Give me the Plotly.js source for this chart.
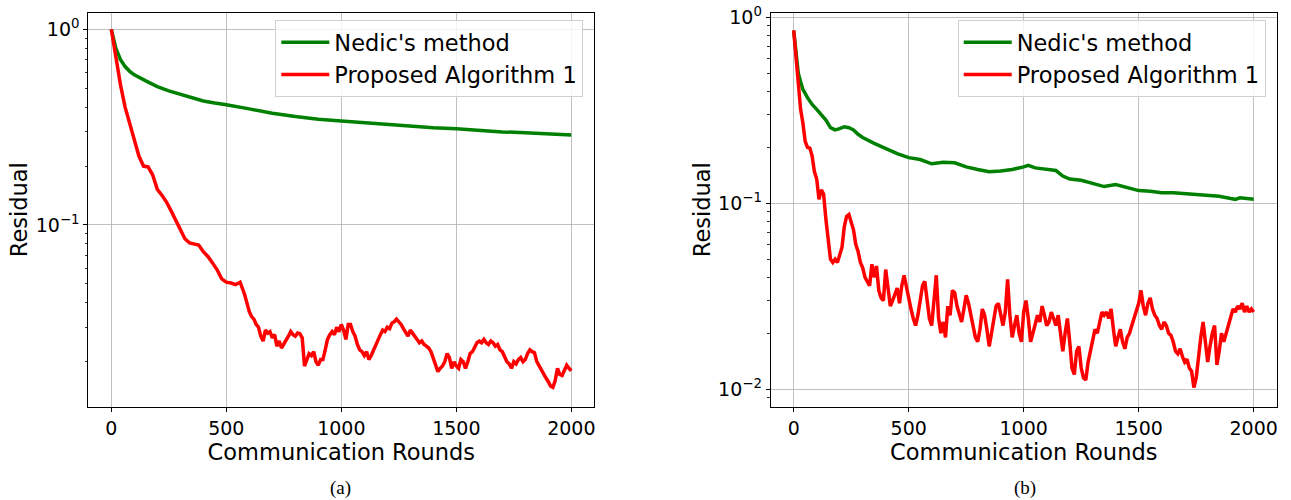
<!DOCTYPE html>
<html>
<head>
<meta charset="utf-8">
<script src="https://cdn.plot.ly/plotly-3.0.1.min.js"></script>
<style>html,body{margin:0;padding:0;background:#fff;}#chart{width:1291px;height:500px;}</style>
</head>
<body>
<div id="chart"></div>
<script>
// ---- Data ----
const seriesNames = ["Nedic's method", "Proposed Algorithm 1"];
const panelLabels = ["(a)", "(b)"];
const xTickVals = [0, 500, 1000, 1500, 2000];
const yTickValsA = [0.1, 1];
const yTickTextA = ["10<sup>\u22121</sup>", "10<sup>0</sup>"];
const yTickValsB = [0.01, 0.1, 1];
const yTickTextB = ["10<sup>\u22122</sup>", "10<sup>\u22121</sup>", "10<sup>0</sup>"];
const minorTickVals = [0.009, 0.02, 0.03, 0.04, 0.05, 0.06, 0.07, 0.08, 0.09, 0.2, 0.3, 0.4, 0.5, 0.6, 0.7, 0.8, 0.9];

// Panel (a) – Nedic's method
const aGreenX = [0, 10, 20, 40, 60, 80, 100, 150, 200, 250, 300, 350, 400, 450, 500, 600, 700, 800, 900, 1000, 1100, 1200, 1300, 1400, 1500, 1600, 1700, 1800, 1900, 2000];
const aGreenY = [1.0, 0.88, 0.80, 0.70, 0.645, 0.61, 0.585, 0.545, 0.51, 0.485, 0.465, 0.445, 0.43, 0.42, 0.412, 0.392, 0.372, 0.358, 0.347, 0.34, 0.333, 0.326, 0.319, 0.314, 0.310, 0.304, 0.299, 0.296, 0.292, 0.288];

// Panel (a) – Proposed Algorithm 1
const aRedX = [0,20,40,60,80,100,120,140,160,180,200,220,240,260,280,300,320,340,360,380,400,420,440,460,480,500,520,540,560,580,
  600,610,620,630,640,650,660,670,680,690,700,710,720,730,740,750,760,770,780,790,800,810,820,830,840,850,860,870,880,890,
  900,910,920,930,940,950,960,970,980,990,1000,1010,1020,1030,1040,1050,1060,1070,1080,1090,1100,1110,1120,1130,1140,1150,1160,1170,1180,1190,
  1200,1210,1220,1230,1240,1250,1260,1270,1280,1290,1300,1310,1320,1330,1340,1350,1360,1370,1380,1390,1400,1410,1420,1430,1440,1450,1460,1470,1480,1490,
  1500,1510,1520,1530,1540,1550,1560,1570,1580,1590,1600,1610,1620,1630,1640,1650,1660,1670,1680,1690,1700,1710,1720,1730,1740,1750,1760,1770,1780,1790,
  1800,1810,1820,1830,1840,1850,1860,1870,1880,1890,1900,1910,1920,1930,1940,1950,1960,1970,1980,1990,2000];
const aRedY = [1.0,0.72,0.52,0.40,0.33,0.28,0.225,0.20,0.198,0.18,0.152,0.142,0.131,0.118,0.105,0.095,0.085,0.081,0.080,0.079,0.073,0.069,0.064,0.059,0.053,0.0510,0.0505,0.0495,0.0510,0.044,
  0.036,0.034,0.033,0.031,0.030,0.027,0.0255,0.029,0.028,0.0285,0.0265,0.0275,0.024,0.0255,0.0235,0.0245,0.026,0.027,0.0285,0.0275,0.027,0.028,0.0278,0.0265,0.0190,0.0205,0.022,0.0215,0.0225,0.020,
  0.0192,0.0205,0.0205,0.023,0.026,0.0275,0.0285,0.0275,0.030,0.0285,0.031,0.029,0.026,0.031,0.031,0.0285,0.027,0.0245,0.023,0.0225,0.0215,0.0225,0.0205,0.0215,0.023,0.024,0.026,0.0275,0.029,0.0285,
  0.030,0.0295,0.0315,0.032,0.033,0.032,0.031,0.0295,0.028,0.027,0.029,0.028,0.027,0.026,0.025,0.0255,0.0245,0.024,0.0235,0.0225,0.021,0.0195,0.0178,0.0185,0.019,0.020,0.022,0.021,0.0185,0.020,
  0.019,0.0185,0.0205,0.020,0.0185,0.020,0.022,0.0225,0.024,0.025,0.0255,0.025,0.026,0.025,0.0245,0.0255,0.025,0.024,0.0245,0.023,0.0225,0.021,0.020,0.0195,0.0185,0.020,0.0195,0.0205,0.021,0.020,
  0.0205,0.022,0.023,0.0225,0.0222,0.020,0.019,0.018,0.0172,0.0165,0.0158,0.015,0.0148,0.016,0.0185,0.0172,0.0170,0.018,0.0192,0.0185,0.0180];

// Panel (b) – Nedic's method
const bGreenX = [0, 10, 20, 30, 40, 60, 80, 100, 120, 140, 160, 180, 200, 220, 240, 260, 280, 300, 350, 400, 450, 500, 550, 600, 650, 700, 750, 800, 850, 900, 950, 1000, 1020, 1050, 1100, 1140, 1170, 1200, 1250, 1300, 1350, 1400, 1450, 1500, 1550, 1600, 1650, 1700, 1750, 1800, 1850, 1900, 1920, 1940, 1970, 2000];
const bGreenY = [0.85, 0.62, 0.50, 0.45, 0.41, 0.37, 0.34, 0.32, 0.30, 0.28, 0.255, 0.248, 0.252, 0.258, 0.255, 0.248, 0.235, 0.226, 0.210, 0.197, 0.185, 0.176, 0.172, 0.163, 0.166, 0.165, 0.157, 0.152, 0.148, 0.149, 0.152, 0.157, 0.160, 0.155, 0.152, 0.150, 0.140, 0.135, 0.133, 0.128, 0.123, 0.126, 0.122, 0.117, 0.116, 0.114, 0.114, 0.113, 0.112, 0.110, 0.109, 0.106, 0.105, 0.107, 0.106, 0.105];

// Panel (b) – Proposed Algorithm 1 (every 10 rounds)
const bRedX = [0,10,20,30,40,50,60,70,80,90,100,110,120,130,140,150,160,170,180,190,200,210,220,230,240,250,260,270,280,290,300,310,320,330,340,350,360,370,380,390,400,410,420,430,440,450,460,470,480,490,500,510,520,530,540,550,560,570,580,590,600,610,620,630,640,650,660,670,680,690,700,710,720,730,740,750,760,770,780,790,800,810,820,830,840,850,860,870,880,890,900,910,920,930,940,950,960,970,980,990,1000,1010,1020,1030,1040,1050,1060,1070,1080,1090,1100,1110,1120,1130,1140,1150,1160,1170,1180,1190,1200,1210,1220,1230,1240,1250,1260,1270,1280,1290,1300,1310,1320,1330,1340,1350,1360,1370,1380,1390,1400,1410,1420,1430,1440,1450,1460,1470,1480,1490,1500,1510,1520,1530,1540,1550,1560,1570,1580,1590,1600,1610,1620,1630,1640,1650,1660,1670,1680,1690,1700,1710,1720,1730,1740,1750,1760,1770,1780,1790,1800,1810,1820,1830,1840,1850,1860,1870,1880,1890,1900,1910,1920,1930,1940,1950,1960,1970,1980,1990,2000];
const bRedY = [0.85,0.60,0.42,0.32,0.27,0.215,0.20,0.198,0.18,0.148,0.135,0.105,0.118,0.112,0.082,0.062,0.050,0.048,0.050,0.048,0.052,0.058,0.075,0.085,0.087,0.078,0.072,0.060,0.055,0.048,0.045,0.040,0.038,0.036,0.047,0.040,0.046,0.034,0.031,0.030,0.044,0.036,0.028,0.030,0.033,0.035,0.029,0.036,0.041,0.035,0.030,0.027,0.024,0.022,0.025,0.030,0.036,0.038,0.029,0.024,0.022,0.030,0.041,0.024,0.020,0.023,0.019,0.028,0.025,0.034,0.033,0.028,0.025,0.023,0.027,0.032,0.029,0.025,0.022,0.019,0.018,0.021,0.027,0.025,0.021,0.017,0.020,0.024,0.028,0.029,0.025,0.022,0.026,0.039,0.025,0.019,0.022,0.025,0.020,0.018,0.026,0.030,0.024,0.018,0.020,0.022,0.025,0.023,0.028,0.025,0.022,0.023,0.026,0.024,0.022,0.025,0.020,0.016,0.020,0.024,0.018,0.013,0.012,0.016,0.017,0.013,0.0115,0.0112,0.014,0.016,0.019,0.021,0.020,0.023,0.026,0.025,0.026,0.024,0.027,0.021,0.017,0.019,0.021,0.018,0.0165,0.019,0.020,0.022,0.024,0.026,0.029,0.034,0.028,0.025,0.029,0.031,0.027,0.025,0.024,0.022,0.021,0.023,0.022,0.020,0.0195,0.018,0.016,0.0155,0.0165,0.015,0.014,0.0145,0.013,0.0125,0.0102,0.0115,0.015,0.019,0.023,0.018,0.014,0.017,0.020,0.022,0.0135,0.016,0.020,0.018,0.020,0.022,0.024,0.027,0.026,0.028,0.027,0.029,0.026,0.028,0.026,0.027,0.026];

// ---- Styling ----
const FONT = "DejaVu Sans, Liberation Sans, sans-serif";
const GREEN = "#008000";
const RED = "#ff0000";

function trace(x, y, name, color, xa, ya, lg) {
  return {x: x, y: y, name: name, type: "scatter", mode: "lines",
          line: {color: color, width: 3.5}, xaxis: xa, yaxis: ya,
          legend: lg, showlegend: true, hoverinfo: "skip"};
}

const data = [
  trace(aGreenX, aGreenY, seriesNames[0], GREEN, "x", "y", "legend"),
  trace(aRedX, aRedY, seriesNames[1], RED, "x", "y", "legend"),
  trace(bGreenX, bGreenY, seriesNames[0], GREEN, "x2", "y2", "legend2"),
  trace(bRedX, bRedY, seriesNames[1], RED, "x2", "y2", "legend2")
];

function xax(domain, anchor) {
  return {domain: domain, anchor: anchor, range: [-100, 2100],
          tickmode: "array", tickvals: xTickVals,
          ticks: "outside", ticklen: 4, tickwidth: 1, tickcolor: "#000",
          showline: true, linecolor: "#000", linewidth: 1, mirror: true,
          showgrid: true, gridcolor: "#b0b0b0", gridwidth: 0.8, zeroline: false,
          tickfont: {family: FONT, size: 19, color: "#000"},
          title: {text: "Communication Rounds", font: {family: FONT, size: 22.5, color: "#000"}, standoff: 2}};
}
function yax(domain, anchor, range, tv, tt) {
  return {domain: domain, anchor: anchor, type: "log", range: range,
          tickmode: "array", tickvals: tv, ticktext: tt,
          ticks: "outside", ticklen: 4, tickwidth: 1, tickcolor: "#000",
          minor: {tickmode: "array", tickvals: minorTickVals, ticks: "outside", ticklen: 2.5, tickwidth: 0.8, tickcolor: "#000", showgrid: false},
          showline: true, linecolor: "#000", linewidth: 1, mirror: true,
          showgrid: true, gridcolor: "#b0b0b0", gridwidth: 0.8, zeroline: false,
          tickfont: {family: FONT, size: 19, color: "#000"},
          title: {text: "Residual", font: {family: FONT, size: 22.5, color: "#000"}, standoff: 1}};
}

const W = 1291, H = 500;
const legendStyle = {bgcolor: "rgba(255,255,255,0.8)", bordercolor: "#d0d0d0", borderwidth: 1, itemwidth: 48,
                     font: {family: FONT, size: 22.5, color: "#000"}, xanchor: "right", yanchor: "top", tracegroupgap: 0};

const layout = {
  width: W, height: H,
  margin: {l: 0, r: 0, t: 0, b: 0},
  paper_bgcolor: "#fff", plot_bgcolor: "#fff",
  showlegend: true,
  xaxis: xax([88.3 / W, 594.3 / W], "y"),
  yaxis: yax([(H - 406.7) / H, (H - 12.7) / H], "x", [-1.929, 0.085], yTickValsA, yTickTextA),
  xaxis2: xax([770.7 / W, 1276.7 / W], "y2"),
  yaxis2: yax([(H - 406.7) / H, (H - 12.7) / H], "x2", [-2.094, 0.025], yTickValsB, yTickTextB),
  legend: Object.assign({x: 583.3 / W, y: (H - 20) / H}, legendStyle),
  legend2: Object.assign({x: 1265.7 / W, y: (H - 20) / H}, legendStyle),
  annotations: [
    {text: panelLabels[0], xref: "paper", yref: "paper", x: 340 / W, y: (H - 488) / H, xanchor: "center", yanchor: "middle", showarrow: false,
     font: {family: "Liberation Serif, Times New Roman, serif", size: 19, color: "#000"}},
    {text: panelLabels[1], xref: "paper", yref: "paper", x: 1025 / W, y: (H - 488) / H, xanchor: "center", yanchor: "middle", showarrow: false,
     font: {family: "Liberation Serif, Times New Roman, serif", size: 19, color: "#000"}}
  ]
};

Plotly.newPlot("chart", data, layout, {staticPlot: true, displayModeBar: false});
</script>
</body>
</html>
